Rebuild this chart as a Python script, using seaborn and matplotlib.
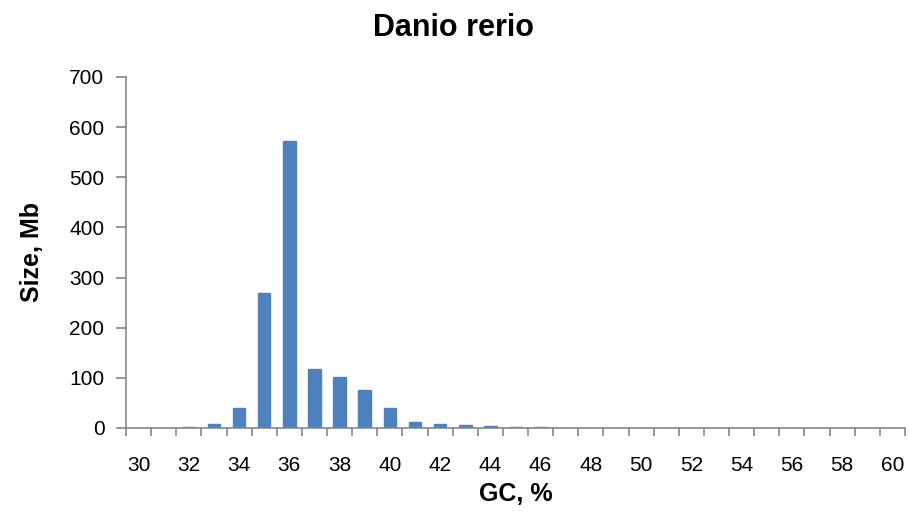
import matplotlib
matplotlib.use("Agg")
import matplotlib.pyplot as plt
import seaborn as sns
import pandas as pd
from matplotlib.ticker import FixedLocator

gc_values = list(range(30, 61))
sizes = [0, 0, 1.5, 8, 39, 270, 573, 118, 101, 76, 39, 12.6, 8, 6, 4, 2.7, 1.2,
         0.3, 0.2, 0, 0, 0, 0, 0, 0, 0, 0, 0, 0, 0, 0]
tick_labels = [str(v) for v in range(30, 61, 2)]

sns.set_theme(style="white")
plt.rcParams['font.family'] = ['Liberation Sans', 'DejaVu Sans']
plt.rcParams['text.color'] = 'black'
plt.rcParams['axes.labelcolor'] = 'black'

df = pd.DataFrame({"gc": [str(v) for v in gc_values], "size": sizes})

fig = plt.figure(figsize=(9.09, 5.32), dpi=100)
ax = fig.add_axes([0.1386, 0.1955, 0.857, 0.6598])
sns.barplot(data=df, x="gc", y="size", color="#4F81BD", saturation=1,
            width=0.5, ax=ax, edgecolor="#4F81BD")

n = len(gc_values)
ax.set_xlim(-0.5, n - 0.5)
ax.set_ylim(0, 700)
ax.set_yticks(range(0, 701, 100))

ax.xaxis.set_major_locator(FixedLocator([i - 0.5 for i in range(n + 1)]))
ax.xaxis.set_minor_locator(FixedLocator(list(range(0, n, 2))))
ax.set_xticklabels([], minor=False)
ax.set_xticklabels(tick_labels, minor=True)
ax.tick_params(axis="x", which="major", direction="out", length=6, width=1.2,
               color="#868686", bottom=True)
ax.tick_params(axis="x", which="minor", length=0, labelsize=15, pad=20.5,
               labelcolor="black")
ax.tick_params(axis="y", direction="out", length=7, width=1.2, color="#868686",
               left=True, labelsize=15, pad=8.5, labelcolor="black")

for s in ["top", "right"]:
    ax.spines[s].set_visible(False)
for s in ["left", "bottom"]:
    ax.spines[s].set_color("#868686")
    ax.spines[s].set_linewidth(1.2)

ax.set_xlabel("GC, %", fontsize=18, fontweight="bold", labelpad=4.5)
ax.set_ylabel("Size, Mb", fontsize=18, fontweight="bold", labelpad=18)
ax.set_title("Danio rerio", fontsize=22, fontweight="bold", pad=29.5, x=0.421)

fig.savefig("out.png", dpi=100)
